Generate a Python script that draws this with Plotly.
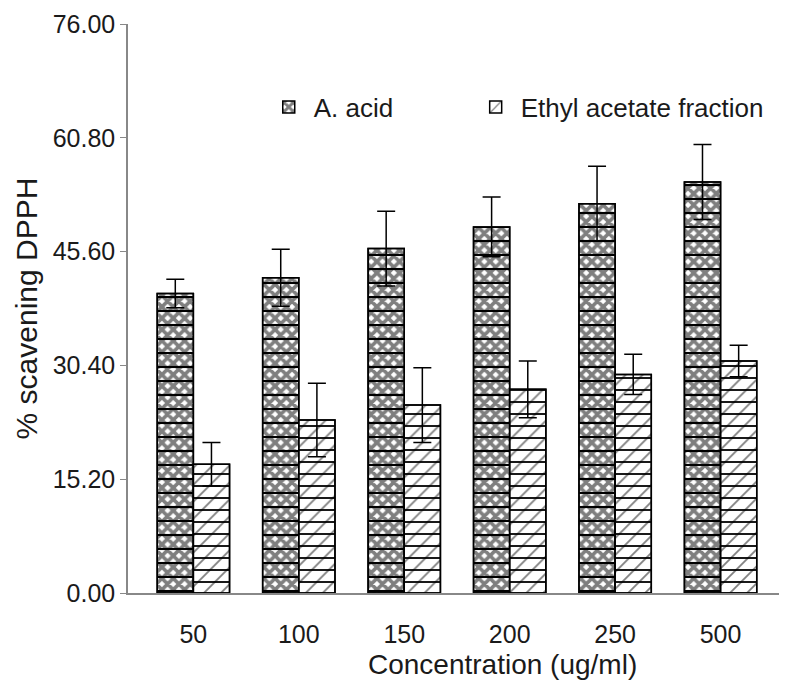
import plotly.graph_objects as go

categories = ["50", "100", "150", "200", "250", "500"]
acid_vals = [40.0, 42.1, 46.0, 48.9, 52.0, 54.9]
acid_err = [1.9, 3.8, 5.0, 4.0, 5.0, 5.0]
ethyl_vals = [17.2, 23.1, 25.1, 27.2, 29.2, 31.0]
ethyl_err = [2.9, 4.9, 5.0, 3.8, 2.7, 2.1]
y_ticks = [0.0, 15.2, 30.4, 45.6, 60.8, 76.0]

FONT = "Liberation Sans, Arial, sans-serif"
TXT = "#1a1a1a"
W = 0.343

fig = go.Figure()

fig.add_trace(go.Bar(
    x=categories, y=acid_vals, name="A. acid", width=W, offset=-W, legend="legend",
    marker=dict(color="white", line=dict(color="black", width=1.5),
                pattern=dict(shape="x", fgcolor="black", bgcolor="white", size=8, solidity=0.7)),
    error_y=dict(type="data", array=acid_err, color="black", thickness=1.5, width=9),
))
fig.add_trace(go.Bar(
    x=categories, y=acid_vals, showlegend=False, hoverinfo="skip", width=W, offset=-W,
    marker=dict(color="rgba(255,255,255,0)", line=dict(color="black", width=1.5),
                pattern=dict(shape="-", fgcolor="black", fgopacity=1, fillmode="overlay",
                             size=14, solidity=0.15)),
))
fig.add_trace(go.Bar(
    x=categories, y=ethyl_vals, name="Ethyl acetate fraction", width=W, offset=0, legend="legend2",
    marker=dict(color="white", line=dict(color="black", width=1.5),
                pattern=dict(shape="/", fgcolor="black", bgcolor="white", size=12, solidity=0.15)),
    error_y=dict(type="data", array=ethyl_err, color="black", thickness=1.5, width=9),
))
fig.add_trace(go.Bar(
    x=categories, y=ethyl_vals, showlegend=False, hoverinfo="skip", width=W, offset=0,
    marker=dict(color="rgba(255,255,255,0)", line=dict(color="black", width=1.5),
                pattern=dict(shape="-", fgcolor="black", fgopacity=1, fillmode="overlay",
                             size=12, solidity=0.15)),
))

fig.add_annotation(
    text="Concentration (ug/ml)", xref="paper", yref="paper",
    x=0.568, y=-0.125, xanchor="center", yanchor="middle", showarrow=False,
    font=dict(size=28, family=FONT, color=TXT),
)

legend_style = dict(orientation="h", yanchor="middle", xanchor="left", y=0.854,
                    font=dict(size=26, family=FONT, color=TXT), bgcolor="rgba(0,0,0,0)",
                    itemwidth=40)

fig.update_layout(
    width=787, height=687,
    barmode="overlay",
    plot_bgcolor="white", paper_bgcolor="white",
    margin=dict(l=120, r=8, t=16, b=102, autoexpand=False),
    font=dict(family=FONT, color=TXT, size=24),
    legend=dict(x=0.206, **legend_style),
    legend2=dict(x=0.520, **legend_style),
    xaxis=dict(
        type="category", range=[-0.62, 5.63],
        showline=True, linecolor="#888", linewidth=1.5,
        ticks="", tickfont=dict(size=25, family=FONT, color=TXT), ticklabelstandoff=18,
        showgrid=False, zeroline=False,
    ),
    yaxis=dict(
        range=[0, 76], tickvals=y_ticks, ticktext=[f"{v:.2f}" for v in y_ticks],
        showline=True, linecolor="#888", linewidth=1.5,
        ticks="outside", ticklen=6, tickcolor="#888",
        tickfont=dict(size=25, family=FONT, color=TXT),
        title=dict(text="% scavening DPPH", font=dict(size=30, family=FONT, color=TXT), standoff=6),
        showgrid=False, zeroline=False,
    ),
)

fig.write_html("out.html")
